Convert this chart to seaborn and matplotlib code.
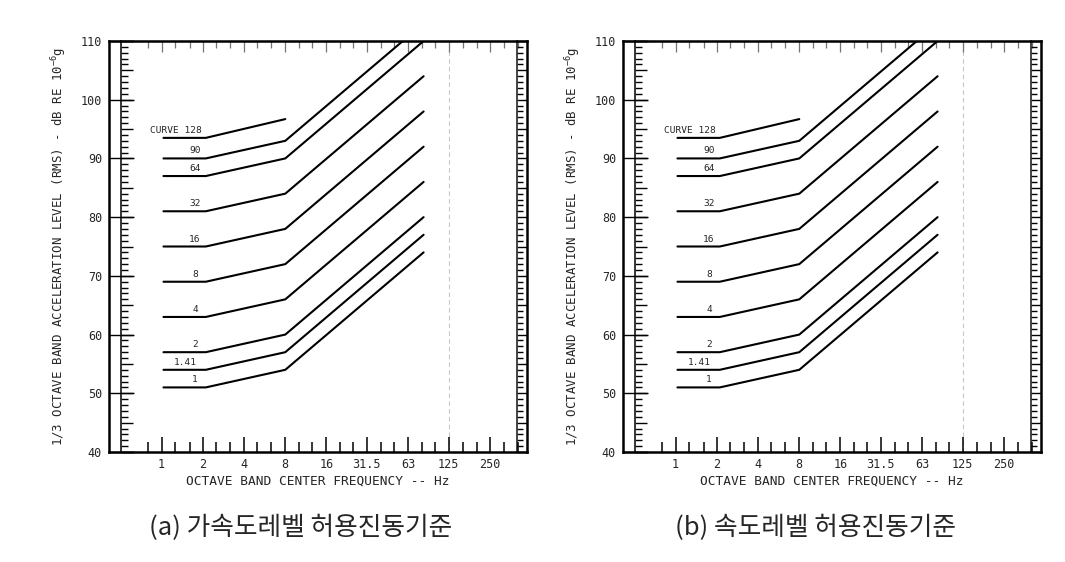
import pandas as pd
import matplotlib
matplotlib.use("Agg")
import matplotlib.pyplot as plt
import matplotlib.ticker as mticker
import seaborn as sns

# ================================================================
# Curve data (freq in Hz, level in dB)
freq_pts = [1.03, 2.1, 8, 82]
c_1 = [51, 51, 54, 74]
c_141 = [54, 54, 57, 77]
c_2 = [57, 57, 60, 80]
c_4 = [63, 63, 66, 86]
c_8 = [69, 69, 72, 92]
c_16 = [75, 75, 78, 98]
c_32 = [81, 81, 84, 104]
c_64 = [87, 87, 90, 110]
c_90 = [90, 90, 93, 113]
c_128 = [93.5, 93.5, 96.7]  # this one stops at 8 Hz

curves = [c_1, c_141, c_2, c_4, c_8, c_16, c_32, c_64, c_90, c_128]
curve_labels = ["1", "1.41", "2", "4", "8", "16", "32", "64", "90", "CURVE 128"]

oct_ticks = [1, 2, 4, 8, 16, 31.5, 63, 125, 250]
oct_labels = ["1", "2", "4", "8", "16", "31.5", "63", "125", "250"]
third_ticks = [0.8, 1.25, 1.6, 2.5, 3.15, 5, 6.3, 10, 12.5, 20, 25, 40, 50,
               80, 100, 160, 200, 315, 400]
y_ticks = [40, 50, 60, 70, 80, 90, 100, 110]

captions = ["(a) 가속도레벨 허용진동기준", "(b) 속도레벨 허용진동기준"]
# ================================================================

rows = []
for name, vals in zip(curve_labels, curves):
    for f, v in zip(freq_pts, vals):
        rows.append({"curve": name, "freq": f, "level": v})
df = pd.DataFrame(rows)

sns.set_style("white")
plt.rcParams["font.family"] = ["DejaVu Sans Mono"]
plt.rcParams["mathtext.default"] = "regular"

YLABEL = r"1/3 OCTAVE BAND ACCELERATION LEVEL (RMS) - dB RE 10$^{-6}$g"
W, H = 1065, 562


def draw_panel(ax):
    sns.lineplot(data=df, x="freq", y="level", units="curve", estimator=None,
                 sort=False, color="black", linewidth=1.5, ax=ax)
    ax.set_xscale("log", base=2)
    ax.set_xlim(0.412, 467)
    ax.set_ylim(40, 110)

    # faint scan line at 125 Hz
    ax.axvline(125, color="0.78", lw=0.8, ls=(0, (4, 3)), zorder=0)

    # curve labels above the flat part
    for name, vals in zip(curve_labels, curves):
        xpos = 1.5 if name == "1.41" else (1.27 if name.startswith("CURVE") else 1.75)
        ax.text(xpos, vals[0] + 0.5, name, ha="center", va="bottom",
                fontsize=6.8, color="0.15")

    ax.set_xticks(oct_ticks, oct_labels)
    ax.set_xticks(third_ticks, minor=True)
    ax.xaxis.set_minor_formatter(mticker.NullFormatter())
    ax.set_yticks(y_ticks, [str(v) for v in y_ticks])
    ax.yaxis.set_minor_locator(mticker.NullLocator())
    ax.tick_params(bottom=True, left=True, which="both")
    ax.tick_params(axis="x", which="major", direction="in", length=11, width=1.1,
                   pad=4, labelsize=8.5, color="black")
    ax.tick_params(axis="x", which="minor", direction="in", length=7.5, width=1.1,
                   color="black")
    ax.tick_params(axis="y", which="major", direction="in", length=18, width=1.0,
                   pad=5, labelsize=8.5, color="black")
    ax.set_xlabel("OCTAVE BAND CENTER FREQUENCY -- Hz", fontsize=9.3, labelpad=3)
    ax.set_ylabel(YLABEL, fontsize=8.9)
    ax.yaxis.set_label_coords(-0.095, 0.5)
    for s in ax.spines.values():
        s.set_visible(True)
        s.set_linewidth(1.8)
        s.set_color("black")

    # top ruler ticks
    top = ax.secondary_xaxis("top")
    top.set_xticks(oct_ticks)
    top.set_xticks(third_ticks, minor=True)
    top.tick_params(which="both", top=True, labeltop=False, direction="in",
                    color="0.45", width=0.9)
    top.tick_params(which="major", length=8)
    top.tick_params(which="minor", length=5)

    # left inner ruler
    lr = ax.secondary_yaxis(12 / 418)
    lr.set_yticks(list(range(40, 111, 5)))
    lr.set_yticks(list(range(40, 111)), minor=True)
    lr.tick_params(which="both", left=True, labelleft=False, direction="in",
                   width=1.0, color="black")
    lr.tick_params(which="major", length=8.5)
    lr.tick_params(which="minor", length=4.8)
    lr.spines["left"].set_linewidth(1.3)

    # right inner ruler
    rr = ax.secondary_yaxis(408 / 418)
    rr.set_yticks(list(range(40, 111, 5)))
    rr.set_yticks(list(range(40, 111)), minor=True)
    rr.tick_params(which="both", right=True, labelright=False, direction="out",
                   width=1.0, color="black")
    rr.tick_params(which="major", length=7)
    rr.tick_params(which="minor", length=4)
    rr.spines["right"].set_linewidth(1.2)


fig = plt.figure(figsize=(W / 100, H / 100), dpi=100)
offsets = [0, 514]
for off, cap in zip(offsets, captions):
    ax = fig.add_axes([(109 + off) / W, (H - 452) / H, 418 / W, 411 / H])
    draw_panel(ax)
    fig.text((301 + off) / W, 1 - 528 / H, cap, ha="center", va="center",
             fontsize=18.5, family=["Noto Sans CJK KR", "DejaVu Sans"])

fig.savefig("out.png", dpi=100, facecolor="white")
